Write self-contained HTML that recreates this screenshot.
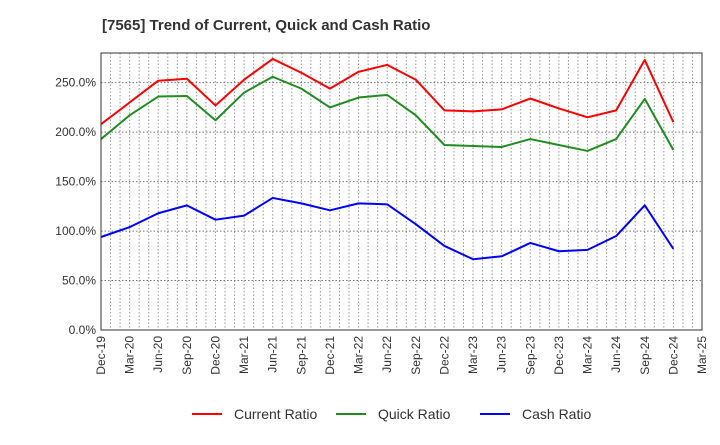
<!DOCTYPE html>
<html><head><meta charset="utf-8"><style>
body{margin:0;background:#fff;font-family:"Liberation Sans",Arial,sans-serif;}
svg text{font-family:"Liberation Sans",Arial,sans-serif;}
</style></head><body>
<svg id="chart" width="720" height="440" xmlns="http://www.w3.org/2000/svg">
<text x="102" y="30" font-size="15" font-weight="bold" fill="#333">[7565]  Trend of Current, Quick and Cash Ratio</text>
<g id="grid"></g>
<g id="series"></g>
<g id="axes"></g>
<g id="legend"></g>
</svg>
<script>
const categories=["Dec-19","Mar-20","Jun-20","Sep-20","Dec-20","Mar-21","Jun-21","Sep-21","Dec-21","Mar-22","Jun-22","Sep-22","Dec-22","Mar-23","Jun-23","Sep-23","Dec-23","Mar-24","Jun-24","Sep-24","Dec-24"];
const tickLabels=["Dec-19","Mar-20","Jun-20","Sep-20","Dec-20","Mar-21","Jun-21","Sep-21","Dec-21","Mar-22","Jun-22","Sep-22","Dec-22","Mar-23","Jun-23","Sep-23","Dec-23","Mar-24","Jun-24","Sep-24","Dec-24","Mar-25"];
const currentRatio=[208,230,252,254,227,253,274,260,244,261,268,253,222,221,223,234,224,215,222,273,210];
const quickRatio=[193,217,236,236.5,212,240,256,244,225,235,237.6,217,187,186,185,193,187,181,193,233.6,182];
const cashRatio=[94,104,118,126,111.5,115.6,133.5,128,121,128,127,107,85,71.5,74.5,88,79.6,81,95,126,82];
const yTicks=[0,50,100,150,200,250];
const yTickLabels=["0.0%","50.0%","100.0%","150.0%","200.0%","250.0%"];
const L=101,R=702,T=53,B=330,YMAX=280,NQ=21;
const xq=i=>L+(R-L)*i/NQ;
const y=v=>B-(B-T)*v/YMAX;
const NS="http://www.w3.org/2000/svg";
function mk(tag,attrs,parent){const e=document.createElementNS(NS,tag);for(const k in attrs)e.setAttribute(k,attrs[k]);parent.appendChild(e);return e;}
const grid=document.getElementById('grid'),axes=document.getElementById('axes'),ser=document.getElementById('series'),leg=document.getElementById('legend');
for(let m=1;m<NQ*3;m++){const x=L+(R-L)*m/(NQ*3);
const g=mk('line',{x1:x,x2:x,y1:T,y2:B,stroke:'#999','stroke-dasharray':'1.5,2','stroke-width':1},grid);

}
yTicks.forEach((v,i)=>{
if(v>0){const g=mk('line',{x1:L,x2:R,y1:y(v),y2:y(v),stroke:'#777','stroke-dasharray':'1.5,2','stroke-width':1},grid);

}
const t=mk('text',{x:L-5,y:y(v)+4,'text-anchor':'end','font-size':12,fill:'#333'},axes);
t.textContent=yTickLabels[i];


});
tickLabels.forEach((s,i)=>{const x=xq(i);
const t=mk('text',{x:0,y:0,transform:`translate(${x+4},${B+6}) rotate(-90)`,'text-anchor':'end','font-size':12,fill:'#333'},axes);
t.textContent=s;

});
const frame=mk('rect',{x:L,y:T,width:R-L,height:B-T,fill:'none',stroke:'#333','stroke-width':1},axes);


const series=[[currentRatio,'#ff0000','current-ratio-line','Current Ratio'],[quickRatio,'#228b22','quick-ratio-line','Quick Ratio'],[cashRatio,'#0000ff','cash-ratio-line','Cash Ratio']];
series.forEach(([d,c,n])=>{
const p=mk('polyline',{points:d.map((v,i)=>xq(i)+','+y(v)).join(' '),fill:'none',stroke:c,'stroke-width':2,'stroke-linejoin':'round'},ser);

});
const lx=[192,336,480];
series.forEach(([d,c,n,label],i)=>{
const g=mk('g',{},leg);


mk('line',{x1:lx[i],x2:lx[i]+30,y1:414,y2:414,stroke:c,'stroke-width':2},g);
const t=mk('text',{x:lx[i]+42,y:419,'font-size':14,fill:'#333'},g);
t.textContent=label;});
</script>
</body></html>
